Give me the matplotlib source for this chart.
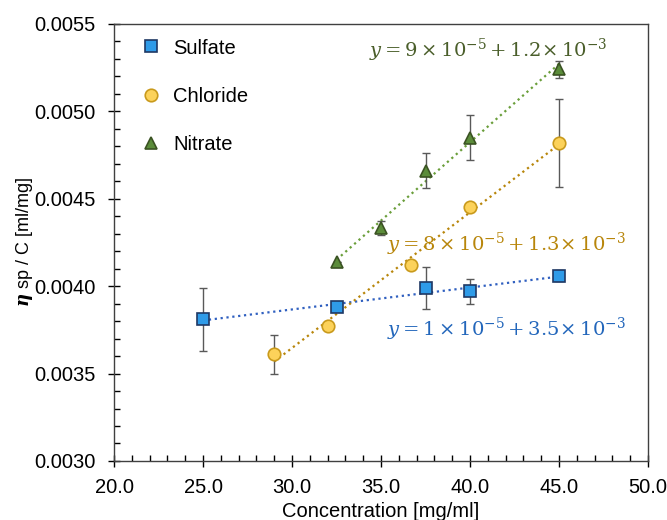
import numpy as np
import matplotlib
matplotlib.use("Agg")
import matplotlib.pyplot as plt
from matplotlib.ticker import MultipleLocator, FormatStrFormatter

plt.rcParams['font.family'] = ['Liberation Sans', 'DejaVu Sans']
plt.rcParams['mathtext.fontset'] = 'dejavuserif'

sulfate_x = [25.0, 32.5, 37.5, 40.0, 45.0]
sulfate_y = [0.00381, 0.00388, 0.00399, 0.00397, 0.00406]
sulfate_err = [0.00018, 0.00002, 0.00012, 0.00007, 0.00003]

chloride_x = [29.0, 32.0, 36.7, 40.0, 45.0]
chloride_y = [0.00361, 0.00377, 0.00412, 0.00445, 0.00482]
chloride_err = [0.00011, 0.0, 0.0, 0.0, 0.00025]

nitrate_x = [32.5, 35.0, 37.5, 40.0, 45.0]
nitrate_y = [0.00414, 0.00433, 0.00466, 0.00485, 0.00524]
nitrate_err = [0.0, 0.00004, 0.0001, 0.00013, 0.00005]

eq_sulfate = r"$y = 1 \times 10^{-5} + 3.5\!\times 10^{-3}$"
eq_chloride = r"$y = 8 \times 10^{-5} + 1.3\!\times 10^{-3}$"
eq_nitrate = r"$y = 9 \times 10^{-5} + 1.2\!\times 10^{-3}$"

fig = plt.figure(figsize=(6.67, 5.2), dpi=100)
ax = fig.add_axes([0.171, 0.1135, 0.8005, 0.8405])

series = [
    ("Sulfate", sulfate_x, sulfate_y, sulfate_err, 's', '#2f9be8', '#1f3864', '#3060c0', 8),
    ("Chloride", chloride_x, chloride_y, chloride_err, 'o', '#fcd25a', '#c99a1c', '#b8860b', 9),
    ("Nitrate", nitrate_x, nitrate_y, nitrate_err, '^', '#5b8c3a', '#3b5323', '#6a9e3a', 8.5),
]

for name, xs, ys, es, m, fc, ec, lc, ms in series:
    xs = np.array(xs); ys = np.array(ys)
    p = np.polyfit(xs, ys, 1)
    xl = np.array([xs.min(), xs.max()])
    ax.plot(xl, np.polyval(p, xl), ':', color=lc, lw=1.6, zorder=2)
    ax.errorbar(xs, ys, yerr=es, fmt='none', ecolor='#595959', elinewidth=1.0,
                capsize=3, capthick=1.0, zorder=3)
    ax.plot(xs, ys, m, ms=ms, mfc=fc, mec=ec, mew=1.2, ls='none', label=name, zorder=4)

ax.text(47.7, 0.00535, eq_nitrate, color='#4a5e2a', fontsize=14, ha='right', va='center')
ax.text(48.75, 0.00424, eq_chloride, color='#b8860b', fontsize=14, ha='right', va='center')
ax.text(48.75, 0.003755, eq_sulfate, color='#2266bb', fontsize=14, ha='right', va='center')

ax.set_xlim(20, 50)
ax.set_ylim(0.0030, 0.0055)
ax.xaxis.set_major_locator(MultipleLocator(5))
ax.xaxis.set_minor_locator(MultipleLocator(1))
ax.yaxis.set_major_locator(MultipleLocator(0.0005))
ax.yaxis.set_minor_locator(MultipleLocator(0.0001))
ax.xaxis.set_major_formatter(FormatStrFormatter('%.1f'))
ax.yaxis.set_major_formatter(FormatStrFormatter('%.4f'))
ax.tick_params(which='major', direction='inout', length=9, width=1, labelsize=14.5)
ax.tick_params(axis='x', which='major', pad=8)
ax.tick_params(axis='y', which='major', pad=9)
ax.tick_params(which='minor', direction='in', length=4, width=1)
for s in ax.spines.values():
    s.set_color('#404040')
    s.set_linewidth(1.0)

ax.set_xlabel("Concentration [mg/ml]", fontsize=14.5, labelpad=3)
ax.set_ylabel(r"$\mathbfit{\eta}$ sp / C [ml/mg]", fontsize=13, labelpad=-1)

ax.legend(loc='upper left', frameon=False, fontsize=14.5, labelspacing=1.45,
          handletextpad=0.6, borderaxespad=0.0, handlelength=1.0,
          bbox_to_anchor=(0.035, 0.985))

fig.savefig("out.png", dpi=100)
